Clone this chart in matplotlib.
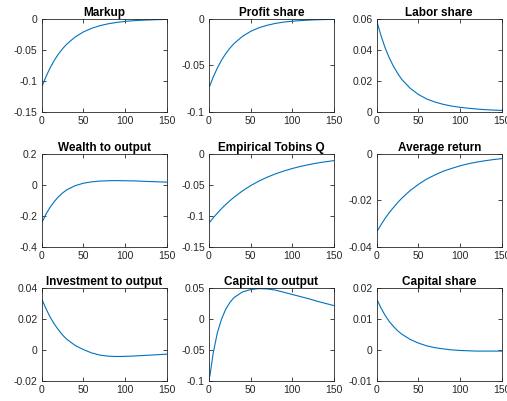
import matplotlib
matplotlib.use("Agg")
import matplotlib.pyplot as plt

plt.rcParams['font.family'] = ['Liberation Sans', 'DejaVu Sans']

periods = [1, 5, 10, 15, 20, 25, 30, 40, 50, 60, 70, 80, 90, 100, 110, 120, 130, 140, 150]

titles = ["Markup", "Profit share", "Labor share",
          "Wealth to output", "Empirical Tobins Q", "Average return",
          "Investment to output", "Capital to output", "Capital share"]

markup = [-0.107, -0.0936, -0.0793, -0.0671, -0.0568, -0.0481, -0.0407, -0.0292, -0.0209,
          -0.0150, -0.0107, -0.0077, -0.0055, -0.0039, -0.0028, -0.0020, -0.0015, -0.0010, -0.0007]
profit_share = [-0.072, -0.0627, -0.0528, -0.0444, -0.0374, -0.0315, -0.0265, -0.0188, -0.0133,
                -0.0094, -0.0067, -0.0047, -0.0033, -0.0024, -0.0017, -0.0012, -0.0008, -0.0006, -0.0004]
labor_share = [0.057, 0.0495, 0.0415, 0.035, 0.0295, 0.025, 0.021, 0.0153, 0.0112,
               0.0083, 0.0063, 0.0048, 0.0037, 0.0029, 0.0023, 0.0018, 0.0014, 0.0011, 0.0009]
wealth_to_output = [-0.235, -0.19, -0.145, -0.108, -0.077, -0.052, -0.032, -0.005, 0.011,
                    0.020, 0.025, 0.027, 0.028, 0.027, 0.026, 0.024, 0.022, 0.020, 0.018]
tobins_q = [-0.110, -0.1033, -0.0956, -0.0884, -0.0817, -0.0756, -0.0699, -0.0598, -0.0511,
            -0.0437, -0.0374, -0.0320, -0.0274, -0.0234, -0.0200, -0.0171, -0.0146, -0.0125, -0.0107]
average_return = [-0.0330, -0.0306, -0.0278, -0.0253, -0.0231, -0.0210, -0.0191, -0.0158, -0.0131,
                  -0.0108, -0.0090, -0.0074, -0.0062, -0.0051, -0.0042, -0.0035, -0.0029, -0.0024, -0.0020]
investment_to_output = [0.032, 0.027, 0.0215, 0.017, 0.0132, 0.0098, 0.0071, 0.0031, 0.0004,
                        -0.0018, -0.0032, -0.0039, -0.0041, -0.0040, -0.0038, -0.0035, -0.0032, -0.0029, -0.0026]
capital_to_output = [-0.092, -0.055, -0.022, 0.0, 0.016, 0.027, 0.035, 0.044, 0.048,
                     0.0495, 0.049, 0.047, 0.0435, 0.040, 0.0365, 0.033, 0.029, 0.0255, 0.022]
capital_share = [0.016, 0.0137, 0.0113, 0.0093, 0.0077, 0.0063, 0.0052, 0.0035, 0.0023,
                 0.0014, 0.0008, 0.0004, 0.0001, -0.0001, -0.0002, -0.0003, -0.0003, -0.0003, -0.0003]

series = [markup, profit_share, labor_share,
          wealth_to_output, tobins_q, average_return,
          investment_to_output, capital_to_output, capital_share]

y_ticks = [[-0.15, -0.1, -0.05, 0], [-0.1, -0.05, 0], [0, 0.02, 0.04, 0.06],
           [-0.4, -0.2, 0, 0.2], [-0.15, -0.1, -0.05, 0], [-0.04, -0.02, 0],
           [-0.02, 0, 0.02, 0.04], [-0.1, -0.05, 0, 0.05], [-0.01, 0, 0.01, 0.02]]
y_labels = [["-0.15", "-0.1", "-0.05", "0"], ["-0.1", "-0.05", "0"], ["0", "0.02", "0.04", "0.06"],
            ["-0.4", "-0.2", "0", "0.2"], ["-0.15", "-0.1", "-0.05", "0"], ["-0.04", "-0.02", "0"],
            ["-0.02", "0", "0.02", "0.04"], ["-0.1", "-0.05", "0", "0.05"], ["-0.01", "0", "0.01", "0.02"]]
x_ticks = [0, 50, 100, 150]
x_labels = ["0", "50", "100", "150"]

W, H = 507, 401
fig = plt.figure(figsize=(W / 100, H / 100), dpi=100)

col_left = [41.7, 209.0, 376.7]
col_w = 125.0
row_top = [19.0, 154.0, 288.3]
row_h = 92.8

axis_col = (0.15, 0.15, 0.15)
line_col = (0.0, 0.447, 0.741)

for i in range(9):
    r, c = divmod(i, 3)
    ax = fig.add_axes([col_left[c] / W, 1 - (row_top[r] + row_h) / H, col_w / W, row_h / H])
    ax.plot(periods, series[i], color=line_col, lw=0.8)
    ax.set_xlim(0, 150)
    ax.set_ylim(y_ticks[i][0], y_ticks[i][-1])
    ax.set_xticks(x_ticks)
    ax.set_xticklabels(x_labels)
    ax.set_yticks(y_ticks[i])
    ax.set_yticklabels(y_labels[i])
    ax.tick_params(direction='in', length=3, width=0.6, colors=axis_col,
                   labelsize=7.5, top=True, right=True, pad=3)
    for sp in ax.spines.values():
        sp.set_color(axis_col)
        sp.set_linewidth(0.6)
    ax.set_title(titles[i], fontsize=8.5, fontweight='bold', pad=2.5, color='black')

fig.savefig("out.png", dpi=100)
